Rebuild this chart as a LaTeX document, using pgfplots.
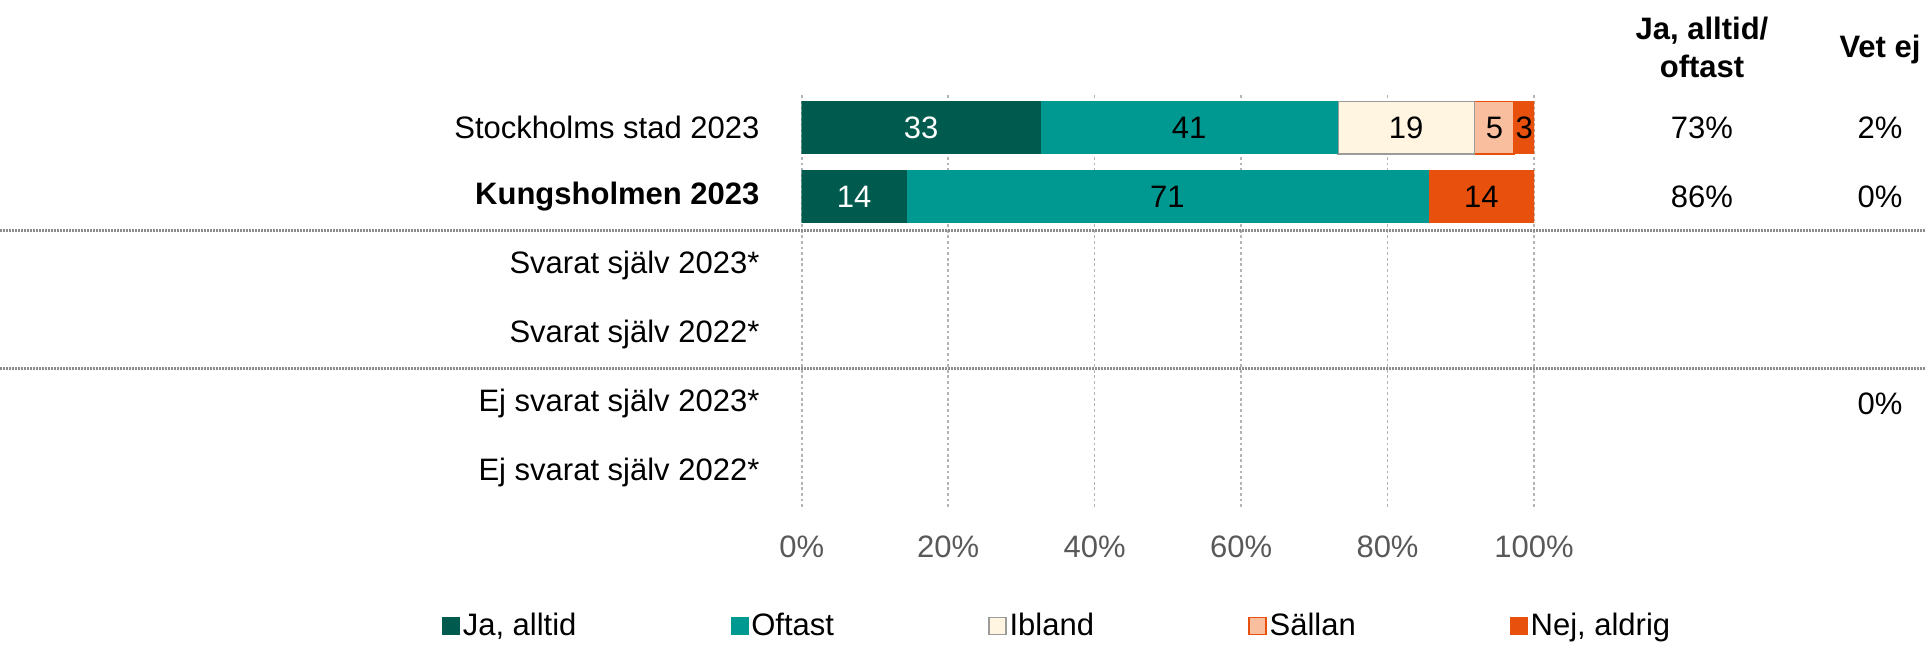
\documentclass[border=0pt]{standalone}
\usepackage{pgfplots}
\pgfplotsset{compat=1.18}
\usepackage{fontspec}
\setmainfont{Liberation Sans}
\definecolor{cJa}{HTML}{005A4E}
\definecolor{cOft}{HTML}{009991}
\definecolor{cIbl}{HTML}{FFF5E1}
\definecolor{cIblB}{HTML}{9B9B9B}
\definecolor{cSal}{HTML}{F8BE9E}
\definecolor{cNej}{HTML}{E8500E}
\definecolor{cTick}{HTML}{595959}
\definecolor{cAxis}{HTML}{868686}
\definecolor{cGrid}{HTML}{B4B4B4}
\definecolor{cSep}{HTML}{8C8C8C}
\newcommand{\fs}{\fontsize{15.5}{18.6}\selectfont}
\begin{document}
\begin{tikzpicture}
\path[use as bounding box] (-400.85pt,-69.5pt) rectangle (562.15pt,253.5pt);
\begin{axis}[
  at={(0pt,0pt)}, anchor=south west,
  scale only axis, width=366.15pt, height=207pt,
  xbar stacked, bar width=26.2pt,
  xmin=0, xmax=100, ymin=-0.5, ymax=5.5,
  axis line style={draw=none},
  major tick length=0pt,
  xtick={20,40,60,80,100},
  xticklabels={20\%,40\%,60\%,80\%,100\%},
  extra x ticks={0},
  extra x tick labels={0\%},
  extra x tick style={grid=major, major grid style={draw=cAxis, solid, line width=0.8pt}},
  ytick={0,1,2,3,4,5},
  yticklabels={Ej svarat själv 2022*,Ej svarat själv 2023*,Svarat själv 2022*,Svarat själv 2023*,\textbf{Kungsholmen 2023},Stockholms stad 2023},
  xmajorgrids,
  major x grid style={draw=cGrid, line width=0.85pt, dash pattern=on 1.4pt off 1.4pt},
  xticklabel style={font=\fs, text=cTick, yshift=-11pt},
  yticklabel style={font=\fs, text=black, xshift=-17.6pt},
  point meta=explicit symbolic,
  nodes near coords,
  every node near coord/.append style={font=\fs, anchor=center},
  legend columns=5,
  legend cell align=left,
  legend style={draw=none, fill=none, font=\fs, inner sep=0pt, outer sep=0pt,
    at={(-0.4912,-0.2874)}, anchor=west,
    nodes={inner sep=1.5pt},
    /tikz/every even column/.append style={column sep=75.5pt}},
  legend image code/.code={\draw[#1] (0pt,-4.25pt) rectangle (8.5pt,4.25pt);},
]
\addplot[fill=cJa, draw=cJa, every node near coord/.append style={text=white}]
  coordinates {(32.6,5) [33] (14.3,4) [14]};
\addlegendentry{Ja, alltid}
\addplot[fill=cOft, draw=cOft]
  coordinates {(40.6,5) [41] (71.3,4) [71]};
\addlegendentry{Oftast}
\addplot[fill=cIbl, draw=cIblB, line width=0.8pt]
  coordinates {(18.7,5) [19] (0,-7) []};
\addlegendentry{Ibland}
\addplot[fill=cSal, draw=cNej, line width=0.8pt]
  coordinates {(5.4,5) [5] (0,-7) []};
\addlegendentry{Sällan}
\addplot[fill=cNej, draw=cNej]
  coordinates {(2.7,5) [3] (14.4,4) [14]};
\addlegendentry{Nej, aldrig}
\end{axis}
\draw[cSep, line width=1.5pt, dash pattern=on 1pt off 0.5pt] (-400.85pt,138pt) -- (562.15pt,138pt);
\draw[cSep, line width=1.5pt, dash pattern=on 1pt off 0.5pt] (-400.85pt,69pt) -- (562.15pt,69pt);
\node[anchor=base, font=\fs\bfseries] at (450.15pt,233.7pt) {Ja, alltid/};
\node[anchor=base, font=\fs\bfseries] at (450.15pt,214.5pt) {oftast};
\node[anchor=base, font=\fs\bfseries] at (539.15pt,224.65pt) {Vet ej};
\node[font=\fs] at (450.15pt,189.75pt) {73\%};
\node[font=\fs] at (450.15pt,155.25pt) {86\%};
\node[font=\fs] at (539.15pt,189.75pt) {2\%};
\node[font=\fs] at (539.15pt,155.25pt) {0\%};
\node[font=\fs] at (539.15pt,51.75pt) {0\%};
\end{tikzpicture}
\end{document}
